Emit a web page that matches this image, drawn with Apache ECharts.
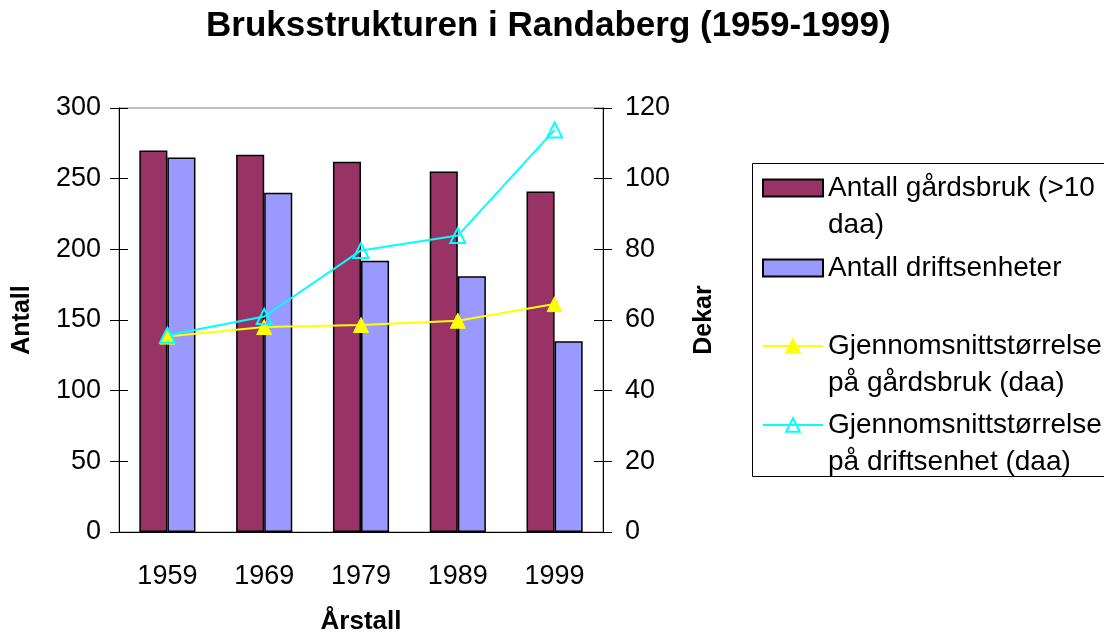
<!DOCTYPE html>
<html lang="no">
  <head>
    <meta charset="UTF-8" />
    <title>Bruksstrukturen i Randaberg</title>
    <script src="https://cdn.jsdelivr.net/npm/echarts@6/dist/echarts.min.js"></script>
    <style>
      body { margin: 0; background: #fff; }
      #chart { width: 1104px; height: 636px; }
    </style>
  </head>
  <body>
    <div id="chart"></div>
  </body>
</html>
<script>
  // data
  const years = ["1959", "1969", "1979", "1989", "1999"];
  const gardsbruk = [270, 267, 262, 255, 241];
  const driftsenheter = [265, 240, 192, 181, 135];
  const snittGardsbruk = [55.3, 58, 58.6, 59.8, 64.5];
  const snittDrift = [55.7, 61, 79.7, 83.9, 113.8];
  const leftTicks = { min: 0, max: 300, interval: 50 };
  const rightTicks = { min: 0, max: 120, interval: 20 };

  const names = [
    "Antall gårdsbruk (>10 daa)",
    "Antall driftsenheter",
    "Gjennomsnittstørrelse på gårdsbruk (daa)",
    "Gjennomsnittstørrelse på driftsenhet (daa)",
  ];
  // empty first line so the first text line sits level with the icon
  const wrapped = {
    [names[0]]: " \nAntall gårdsbruk (>10\ndaa)",
    [names[1]]: "Antall driftsenheter",
    [names[2]]: " \nGjennomsnittstørrelse\npå gårdsbruk (daa)",
    [names[3]]: " \nGjennomsnittstørrelse\npå driftsenhet (daa)",
  };

  const font = "'Liberation Sans', Arial, sans-serif";
  const chart = echarts.init(document.getElementById("chart"));

  const labelStyle = { color: "#000", fontSize: 27, fontFamily: font };
  const nameStyle = { color: "#000", fontSize: 25, fontWeight: "bold", fontFamily: font };
  const black = { lineStyle: { color: "#000", width: 1 } };

  // one legend per entry so the rows sit like in the picture
  function legendFor(name, top, icon) {
    const lg = {
      data: [name],
      left: 762,
      top: top,
      padding: 0,
      itemWidth: 60,
      itemHeight: 17,
      selectedMode: false,
      formatter: (n) => wrapped[n],
      textStyle: { color: "#000", fontSize: 28, fontFamily: font, lineHeight: 37 },
    };
    if (icon) lg.icon = icon;
    return lg;
  }

  const option = {
    backgroundColor: "#fff",
    animation: false,
    title: {
      text: "Bruksstrukturen i Randaberg (1959-1999)",
      left: 206,
      top: 9,
      padding: 0,
      textStyle: { color: "#000", fontSize: 35, fontWeight: "bold", fontFamily: font },
    },
    graphic: [
      {
        type: "rect",
        shape: { x: 752.5, y: 163.5, width: 400, height: 313 },
        style: { fill: "none", stroke: "#000", lineWidth: 1 },
      },
    ],
    legend: [
      legendFor(names[0], 132.5, "rect"),
      legendFor(names[1], 249.5, "rect"),
      legendFor(names[2], 290.5),
      legendFor(names[3], 369.5),
    ],
    grid: {
      left: 119,
      right: 501,
      top: 108,
      bottom: 104,
      outerBoundsMode: "none",
      containLabel: false,
      show: true,
      borderColor: "#808080",
      borderWidth: 1,
    },
    xAxis: [
      {
        type: "category",
        data: years,
        name: "Årstall",
        nameLocation: "middle",
        nameGap: 77,
        nameTextStyle: Object.assign({}, nameStyle, { fontSize: 26 }),
        axisLine: black,
        axisTick: { inside: false, length: 9, lineStyle: { color: "#000" } },
        axisLabel: Object.assign({ margin: 31 }, labelStyle),
      },
      {
        type: "category",
        data: years,
        position: "bottom",
        axisLine: { show: false },
        axisTick: { inside: true, length: 9, lineStyle: { color: "#000" } },
        axisLabel: { show: false },
      },
    ],
    yAxis: [
      Object.assign({}, leftTicks, {
        type: "value",
        position: "left",
        name: "Antall",
        nameLocation: "middle",
        nameGap: 84,
        nameTextStyle: nameStyle,
        axisLine: Object.assign({ show: true }, black),
        axisTick: { show: true, inside: false, length: 9, lineStyle: { color: "#000" } },
        axisLabel: Object.assign({ margin: 18 }, labelStyle),
        splitLine: { show: false },
      }),
      Object.assign({}, rightTicks, {
        type: "value",
        position: "right",
        name: "Dekar",
        nameLocation: "middle",
        nameGap: 89,
        nameTextStyle: nameStyle,
        axisLine: Object.assign({ show: true }, black),
        axisTick: { show: true, inside: false, length: 9, lineStyle: { color: "#000" } },
        axisLabel: Object.assign({ margin: 22 }, labelStyle),
        splitLine: { show: false },
      }),
      Object.assign({}, leftTicks, {
        type: "value",
        position: "left",
        axisLine: { show: false },
        axisTick: { show: true, inside: true, length: 9, lineStyle: { color: "#000" } },
        axisLabel: { show: false },
        splitLine: { show: false },
      }),
      Object.assign({}, rightTicks, {
        type: "value",
        position: "right",
        axisLine: { show: false },
        axisTick: { show: true, inside: true, length: 9, lineStyle: { color: "#000" } },
        axisLabel: { show: false },
        splitLine: { show: false },
      }),
    ],
    series: [
      {
        name: names[0],
        type: "bar",
        data: gardsbruk,
        barGap: "0%",
        barCategoryGap: "42%",
        itemStyle: { color: "#993366", borderColor: "#000", borderWidth: 1.5 },
      },
      {
        name: names[1],
        type: "bar",
        data: driftsenheter,
        itemStyle: { color: "#9999FF", borderColor: "#000", borderWidth: 1.5 },
      },
      {
        name: names[2],
        type: "line",
        yAxisIndex: 1,
        data: snittGardsbruk,
        symbol: "triangle",
        symbolSize: 15,
        lineStyle: { color: "#FFFF00", width: 2 },
        itemStyle: { color: "#FFFF00", borderColor: "#FFFF00", borderWidth: 1 },
      },
      {
        name: names[3],
        type: "line",
        yAxisIndex: 1,
        data: snittDrift,
        symbol: "triangle",
        symbolSize: 15,
        lineStyle: { color: "#00FFFF", width: 2 },
        itemStyle: { color: "rgba(255,255,255,0)", borderColor: "#00FFFF", borderWidth: 2 },
      },
    ],
  };
  chart.setOption(option);
</script>
